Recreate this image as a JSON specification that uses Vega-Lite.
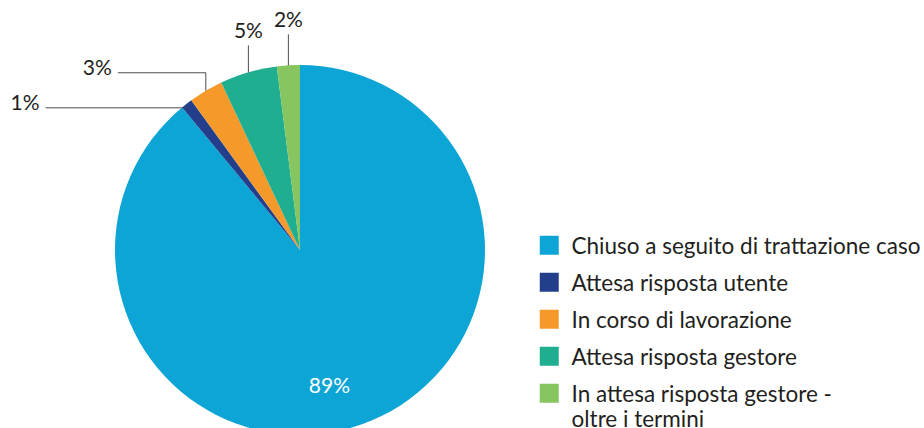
{
  "$schema": "https://vega.github.io/schema/vega-lite/v6.json",
  "width": 600,
  "height": 500,
  "padding": 0,
  "autosize": {"type": "pad"},
  "background": "white",
  "config": {"view": {"stroke": null}, "font": "Lato"},
  "data": {
    "values": [
      {"status": "Chiuso a seguito di trattazione caso", "pct": 89, "ord": 1},
      {"status": "Attesa risposta utente", "pct": 1, "ord": 2},
      {"status": "In corso di lavorazione", "pct": 3, "ord": 3},
      {"status": "Attesa risposta gestore", "pct": 5, "ord": 4},
      {"status": "In attesa risposta gestore - oltre i termini", "pct": 2, "ord": 5}
    ]
  },
  "transform": [
    {"window": [{"op": "sum", "field": "pct", "as": "cum"}], "sort": [{"field": "ord", "order": "ascending"}], "frame": [null, 0]},
    {"calculate": "2*PI*(datum.cum - datum.pct/2)/100", "as": "mid"},
    {"calculate": "185*sin(datum.mid)", "as": "ex"},
    {"calculate": "185*cos(datum.mid)", "as": "ey"},
    {"calculate": "datum.ord == 2 ? -4 : datum.ord == 3 ? 18 : datum.ord == 4 ? 27 : datum.ord == 5 ? 31 : 0", "as": "up"},
    {"calculate": "datum.ord == 2 ? 141 : datum.ord == 3 ? 88 : 0", "as": "left"},
    {"calculate": "datum.ey + datum.up", "as": "hy"},
    {"calculate": "datum.ex - datum.left", "as": "hx"},
    {"calculate": "143*sin(datum.mid)", "as": "ix"},
    {"calculate": "143*cos(datum.mid)", "as": "iy"},
    {"calculate": "datum.pct + '%'", "as": "lbl"}
  ],
  "layer": [
    {
      "mark": {"type": "arc", "outerRadius": 185},
      "encoding": {
        "theta": {"field": "pct", "type": "quantitative", "stack": true},
        "order": {"field": "ord", "type": "quantitative"},
        "color": {
          "field": "status",
          "type": "nominal",
          "sort": null,
          "scale": {
            "domain": ["Chiuso a seguito di trattazione caso", "Attesa risposta utente", "In corso di lavorazione", "Attesa risposta gestore", "In attesa risposta gestore - oltre i termini"],
            "range": ["#0da5d5", "#233f8b", "#f59a2a", "#20ae90", "#87c560"]
          },
          "legend": {
            "orient": "none",
            "legendX": 538,
            "legendY": 234,
            "title": null,
            "padding": 0,
            "symbolType": "square",
            "symbolSize": 361,
            "symbolStrokeWidth": 0,
            "labelFont": "Lato",
            "labelFontSize": 22.5,
            "labelColor": "#231f20",
            "labelOffset": 11,
            "labelLimit": 0,
            "labelBaseline": "top",
            "rowPadding": 12,
            "labelExpr": "datum.label == 'In attesa risposta gestore - oltre i termini' ? ['In attesa risposta gestore -', 'oltre i termini'] : datum.label",
            "encode": {"labels": {"update": {"dy": {"value": -9}}}}
          }
        }
      }
    },
    {
      "transform": [{"filter": "datum.up > 0"}],
      "mark": {"type": "rule", "color": "#4d4d4d", "strokeWidth": 1},
      "encoding": {
        "x": {"field": "ex", "type": "quantitative", "scale": {"domain": [-300, 300], "nice": false, "zero": false}, "axis": null},
        "y": {"field": "ey", "type": "quantitative", "scale": {"domain": [-250, 250], "nice": false, "zero": false}, "axis": null},
        "y2": {"field": "hy"}
      }
    },
    {
      "transform": [{"filter": "datum.left > 0"}],
      "mark": {"type": "rule", "color": "#4d4d4d", "strokeWidth": 1},
      "encoding": {
        "x": {"field": "hx", "type": "quantitative"},
        "x2": {"field": "ex"},
        "y": {"field": "hy", "type": "quantitative"}
      }
    },
    {
      "transform": [{"filter": "datum.left > 0"}],
      "mark": {"type": "text", "align": "right", "baseline": "middle", "dx": -6, "dy": -4, "fontSize": 21, "color": "#231f20"},
      "encoding": {
        "x": {"field": "hx", "type": "quantitative"},
        "y": {"field": "hy", "type": "quantitative"},
        "text": {"field": "lbl"}
      }
    },
    {
      "transform": [{"filter": "datum.ord >= 4"}],
      "mark": {"type": "text", "align": "center", "baseline": "bottom", "dy": -3, "fontSize": 21, "color": "#231f20"},
      "encoding": {
        "x": {"field": "ex", "type": "quantitative"},
        "y": {"field": "hy", "type": "quantitative"},
        "text": {"field": "lbl"}
      }
    },
    {
      "transform": [{"filter": "datum.ord == 1"}],
      "mark": {"type": "text", "align": "center", "baseline": "middle", "dx": -19, "dy": 2, "fontSize": 21, "color": "white"},
      "encoding": {
        "x": {"field": "ix", "type": "quantitative"},
        "y": {"field": "iy", "type": "quantitative"},
        "text": {"field": "lbl"}
      }
    }
  ]
}
